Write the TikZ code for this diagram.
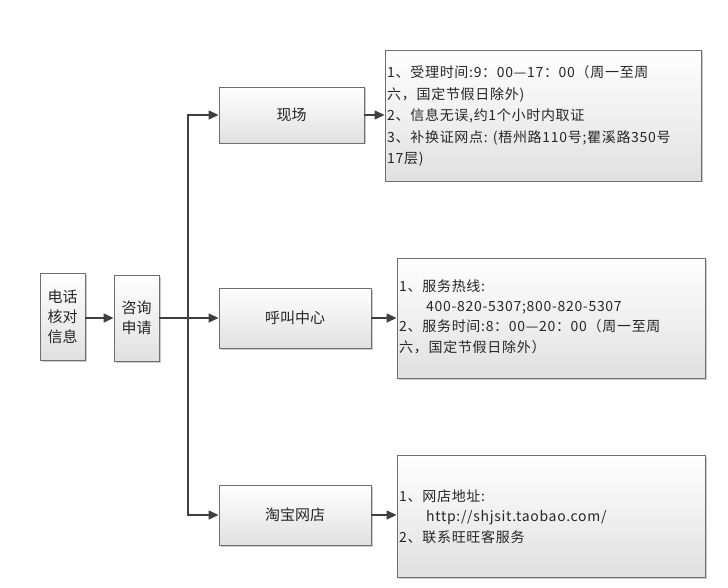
\documentclass[tikz,border=0pt]{standalone}
\usepackage{fontspec}
\setmainfont{Noto Sans CJK SC}
\newfontfamily\wide[LetterSpace=5]{Noto Sans CJK SC}
\usetikzlibrary{arrows.meta,shadows}
\definecolor{edge}{HTML}{6E6E6E}
\definecolor{wire}{HTML}{3F3F3F}
\tikzset{
  boxstyle/.style={draw=edge, line width=0.9pt, rectangle, top color=white, bottom color=black!12,
     drop shadow={shadow xshift=1.5pt, shadow yshift=-1.5pt, fill=black!40, opacity=0.5},
     inner sep=0pt, font=\fontsize{15}{20}\selectfont, text=black!85},
  infostyle/.style={boxstyle},
  infotext/.style={anchor=north west, align=left, inner sep=0pt, text=black!85},
  wirestyle/.style={draw=wire, line width=1.4pt, -{Triangle[length=10pt,width=9pt]}},
}
\begin{document}
\begin{tikzpicture}[x=1pt,y=-1pt]
\useasboundingbox[fill=white] (0,0) rectangle (728,588);
% small boxes
\node[boxstyle, minimum width=45pt, minimum height=87pt, align=center] (dh) at (62.5,316.5) {电话\\核对\\信息};
\node[boxstyle, minimum width=45pt, minimum height=86pt, align=center] (zx) at (136.5,318) {咨询\\申请};
\node[boxstyle, minimum width=145pt, minimum height=56pt] (xc) at (291.5,115) {现场};
\node[boxstyle, minimum width=152pt, minimum height=60pt] (hj) at (295,318) {呼叫中心};
\node[boxstyle, minimum width=152pt, minimum height=60pt] (tb) at (295,515) {淘宝网店};
% info boxes
\node[infostyle, minimum width=316pt, minimum height=131pt] (i1) at (543,115.5) {};
\node[infostyle, minimum width=308pt, minimum height=120pt] (i2) at (551,318) {};
\node[infostyle, minimum width=308pt, minimum height=122pt] (i3) at (551,516) {};
% info texts
\node[infotext, font=\wide\fontsize{14}{21.5}\selectfont] (t1) at (387,65.5)
 {1、受理时间:9：00—17：00（周一至周\\六，国定节假日除外)\\2、信息无误,约1个小时内取证\\3、补换证网点: (梧州路110号;瞿溪路350号\\17层)};
\node[infotext, font=\wide\fontsize{14}{20.2}\selectfont] (t2) at (399,279.5)
 {1、服务热线:\\\hspace*{27pt}400-820-5307;800-820-5307\\2、服务时间:8：00—20：00（周一至周\\六，国定节假日除外）};
\node[infotext, font=\wide\fontsize{14}{20.5}\selectfont] (t3) at (399,489.5)
 {1、网店地址:\\\hspace*{27pt}http://shjsit.taobao.com/\\2、联系旺旺客服务};
% connectors
\coordinate (tr) at (188,318);
\draw[wirestyle] (dh.east |- zx.west) -- (zx.west);
\draw[wirestyle] (zx.east) -- (hj.west);
\draw[wirestyle] (tr) |- (xc.west);
\draw[wirestyle] (tr) |- (tb.west);
\draw[wirestyle] (xc.east) -- (i1.west |- xc.east);
\draw[wirestyle] (hj.east) -- (i2.west |- hj.east);
\draw[wirestyle] (tb.east) -- (i3.west |- tb.east);
\end{tikzpicture}
\end{document}
